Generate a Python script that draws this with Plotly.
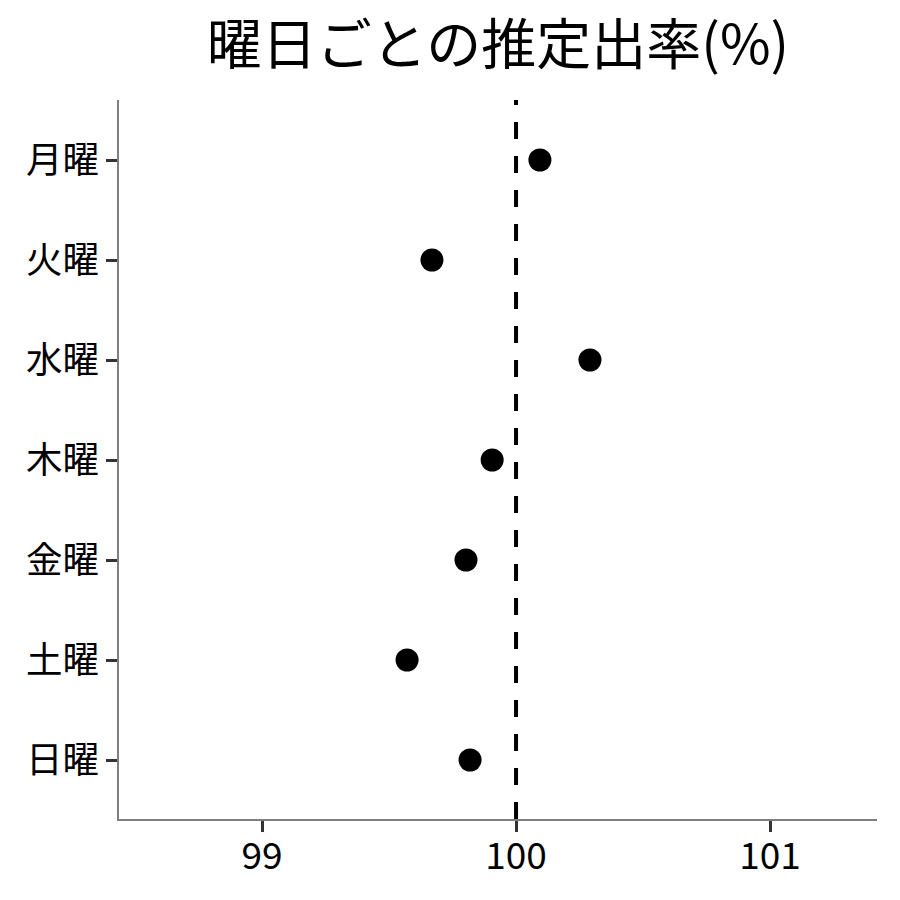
import plotly.graph_objects as go

days = ["月曜", "火曜", "水曜", "木曜", "金曜", "土曜", "日曜"]
rates = [100.094, 99.669, 100.291, 99.906, 99.803, 99.571, 99.819]
x_ticks = [99, 100, 101]
x_tick_labels = ["99", "100", "101"]
reference_value = 100
title_text = "曜日ごとの推定出率(%)"

font_family = "Noto Sans CJK JP, Noto Sans, sans-serif"

fig = go.Figure()
fig.add_trace(go.Scatter(
    x=rates, y=days, mode="markers",
    marker=dict(color="black", size=23, line=dict(width=0)),
    showlegend=False, hoverinfo="x+y",
))

fig.add_shape(type="line", xref="x", yref="paper",
              x0=reference_value, x1=reference_value, y0=0, y1=1,
              line=dict(color="black", width=4, dash="17px,17px"))

fig.update_layout(
    width=900, height=900,
    paper_bgcolor="white", plot_bgcolor="white",
    margin=dict(l=111, r=31, t=92, b=89),
    font=dict(family=font_family, color="black"),
    title=dict(text=title_text, x=0.5, xref="paper", xanchor="center",
               y=1 - 37 / 900, yanchor="middle",
               font=dict(size=55, family=font_family, color="black")),
)

fig.update_xaxes(
    range=[98.437, 101.421], tickvals=x_ticks, ticktext=x_tick_labels,
    showgrid=False, zeroline=False,
    showline=True, linecolor="#7f7f7f", linewidth=1.5,
    ticks="outside", ticklen=11, tickwidth=3, tickcolor="#333333",
    ticklabelstandoff=-7,
    tickfont=dict(size=37, color="black", family=font_family),
)
fig.update_yaxes(
    type="category", categoryorder="array", categoryarray=days,
    range=[6.59, -0.6],
    showgrid=False, zeroline=False,
    showline=True, linecolor="#7f7f7f", linewidth=1.5,
    ticks="outside", ticklen=11, tickwidth=3, tickcolor="#333333",
    ticklabelstandoff=0,
    tickfont=dict(size=36.5, color="black", family=font_family),
)

fig.write_html("out.html")
